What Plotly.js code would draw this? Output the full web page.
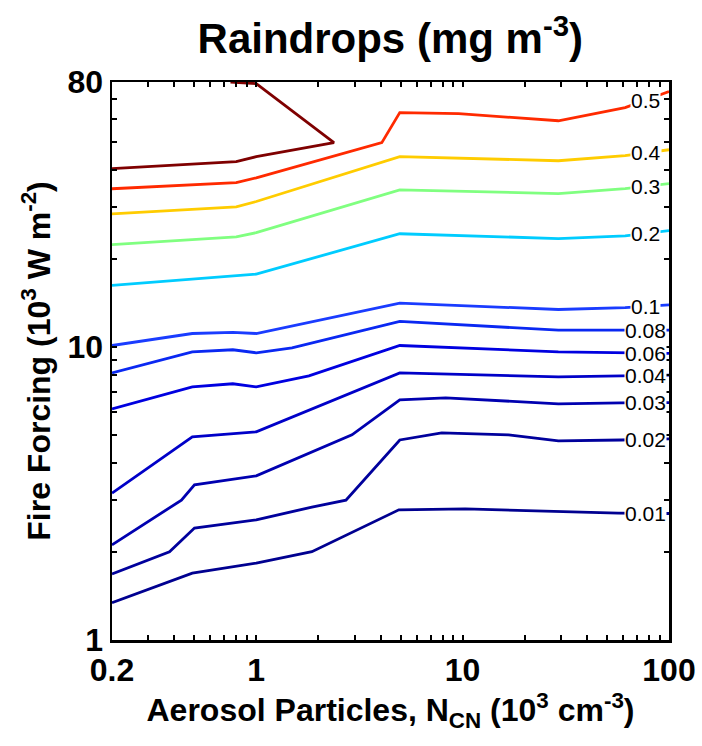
<!DOCTYPE html>
<html>
<head>
<meta charset="utf-8">
<script src="https://cdn.plot.ly/plotly-3.0.1.min.js"></script>
<style>
  html, body { margin: 0; padding: 0; background: #fff; }
  #chart { width: 702px; height: 746px; }
</style>
</head>
<body>
<div id="chart"></div>
<script>
// Contour levels of raindrop mass (mg m^-3) over aerosol number vs. fire forcing
const levels = ['0.6', '0.5', '0.4', '0.3', '0.2', '0.1', '0.08', '0.06', '0.04', '0.03', '0.02', '0.01'];
const levelColors = ['#7f0000', '#ff2a00', '#ffcc00', '#80ff80', '#00ccff', '#1a3cff',
                     '#0a28f2', '#0000e0', '#0000c8', '#0000b0', '#00009c', '#000090'];

// Aerosol particles N_CN (10^3 cm^-3) along each contour
const x060 = [0.2, 0.8, 1.0, 2.38, 1.0, 0.75];
const x050 = [0.2, 0.8, 1.0, 4.06, 4.96, 9.57, 29.1, 61.3, 100];
const x040 = [0.2, 0.8, 1.0, 4.96, 29.1, 61.3, 100];
const x030 = [0.2, 0.8, 1.0, 4.96, 29.1, 61.3, 100];
const x020 = [0.2, 0.8, 1.0, 4.96, 29.1, 61.3, 100];
const x010 = [0.2, 0.49, 0.77, 1.0, 4.96, 29.1, 61.3, 100];
const x008 = [0.2, 0.49, 0.77, 1.0, 1.49, 4.96, 29.1, 58.6, 100];
const x006 = [0.2, 0.49, 0.77, 1.0, 1.80, 4.96, 29.1, 58.6, 100];
const x004 = [0.2, 0.49, 1.0, 2.91, 4.96, 29.1, 58.6, 100];
const x003 = [0.2, 0.434, 0.502, 0.80, 1.0, 2.91, 4.96, 8.28, 29.1, 58.6, 100];
const x002 = [0.2, 0.38, 0.502, 1.0, 1.86, 2.72, 4.96, 7.92, 16.7, 29.1, 58.6, 100];
const x001 = [0.2, 0.49, 1.0, 1.86, 4.91, 10.3, 56.7, 100];

// Fire forcing (10^3 W m^-2) along each contour
const y060 = [40.5, 42.8, 44.5, 49.7, 79.0, 80];
const y050 = [34.6, 36.3, 37.7, 49.7, 62.9, 62.4, 59.0, 65.4, 74.2];
const y040 = [28.4, 30.0, 31.3, 44.5, 43.1, 44.9, 47.0];
const y030 = [22.3, 23.7, 24.5, 34.3, 33.3, 34.6, 36.0];
const y020 = [16.2, 17.5, 17.7, 24.3, 23.4, 23.9, 24.9];
const y010 = [10.1, 11.1, 11.2, 11.1, 14.1, 13.4, 13.6, 13.9];
const y008 = [8.15, 9.61, 9.77, 9.54, 9.92, 12.2, 11.4, 11.4, 11.4];
const y006 = [6.14, 7.30, 7.48, 7.30, 7.96, 10.1, 9.61, 9.54, 9.5];
const y004 = [3.17, 4.93, 5.13, 6.97, 8.15, 7.90, 7.96, 8.0];
const y003 = [2.11, 3.00, 3.38, 3.54, 3.63, 5.01, 6.59, 6.70, 6.39, 6.44, 6.45];
const y002 = [1.68, 2.00, 2.41, 2.57, 2.84, 3.00, 4.81, 5.09, 5.01, 4.78, 4.81, 4.85];
const y001 = [1.34, 1.69, 1.83, 2.00, 2.78, 2.80, 2.71, 2.70];

const xs = [x060, x050, x040, x030, x020, x010, x008, x006, x004, x003, x002, x001];
const ys = [y060, y050, y040, y030, y020, y010, y008, y006, y004, y003, y002, y001];

// Which levels carry an inline label, and where along x it sits
const labelled = [false, true, true, true, true, true, true, true, true, true, true, true];
const labelAtX = 77;

// Axis ticks
const xTickVals = [0.2, 0.3, 0.4, 0.5, 0.6, 0.7, 0.8, 0.9, 1, 2, 3, 4, 5, 6, 7, 8, 9, 10,
                   20, 30, 40, 50, 60, 70, 80, 90, 100];
const xTickText = ['0.2', '', '', '', '', '', '', '', '1', '', '', '', '', '', '', '', '', '10',
                   '', '', '', '', '', '', '', '', '100'];
const yTickVals = [1, 2, 3, 4, 5, 6, 7, 8, 9, 10, 20, 30, 40, 50, 60, 70, 80];
const yTickText = ['1', '', '', '', '', '', '', '', '', '10', '', '', '', '', '', '', '80'];

// Log-log interpolation of a contour at a given x
function yAt(xArr, yArr, xq) {
  for (let i = 0; i < xArr.length - 1; i++) {
    const a = xArr[i], b = xArr[i + 1];
    if ((xq >= a && xq <= b) || (xq <= a && xq >= b)) {
      const t = (Math.log10(xq) - Math.log10(a)) / (Math.log10(b) - Math.log10(a));
      return Math.pow(10, Math.log10(yArr[i]) + t * (Math.log10(yArr[i + 1]) - Math.log10(yArr[i])));
    }
  }
  return yArr[yArr.length - 1];
}

const traces = levels.map((lv, i) => ({
  type: 'scatter',
  mode: 'lines',
  x: xs[i],
  y: ys[i],
  name: lv,
  line: { color: levelColors[i], width: 2.8 },
  hoverinfo: 'skip',
  cliponaxis: true
}));

const sans = 'Liberation Sans, Arial, sans-serif';

const annotations = [];
levels.forEach((lv, i) => {
  if (!labelled[i]) return;
  annotations.push({
    x: Math.log10(labelAtX),
    y: Math.log10(yAt(xs[i], ys[i], labelAtX)),
    xref: 'x', yref: 'y',
    text: lv,
    showarrow: false,
    xanchor: 'center', yanchor: 'middle',
    bgcolor: '#ffffff',
    borderpad: 0,
    font: { family: sans, size: 21, color: '#000' }
  });
});

const tickFont = { family: sans, size: 32, color: '#000', weight: 'bold' };
const axisTitleFont = { family: sans, size: 32, color: '#000', weight: 'bold' };

const layout = {
  width: 702,
  height: 746,
  margin: { l: 112, r: 33, t: 82, b: 106 },
  paper_bgcolor: '#fff',
  plot_bgcolor: '#fff',
  showlegend: false,
  title: {
    text: 'Raindrops (mg m<sup>-3</sup>)',
    font: { family: sans, size: 42, color: '#000', weight: 'bold' },
    x: 0.556, xanchor: 'center',
    y: 0.948, yanchor: 'middle',
    xref: 'container', yref: 'container'
  },
  xaxis: {
    type: 'log',
    range: [Math.log10(0.2), 2],
    tickmode: 'array',
    tickvals: xTickVals,
    ticktext: xTickText,
    ticks: 'inside',
    ticklen: 5,
    tickwidth: 2,
    tickcolor: '#000',
    showline: true,
    linecolor: '#000',
    linewidth: 2.5,
    mirror: 'allticks',
    showgrid: false,
    zeroline: false,
    tickfont: tickFont,
    title: {
      text: 'Aerosol Particles, N<sub>CN</sub> (10<sup>3</sup> cm<sup>-3</sup>)',
      font: axisTitleFont,
      standoff: 8
    }
  },
  yaxis: {
    type: 'log',
    range: [0, Math.log10(80)],
    tickmode: 'array',
    tickvals: yTickVals,
    ticktext: yTickText,
    ticks: 'inside',
    ticklen: 5,
    tickwidth: 2,
    tickcolor: '#000',
    showline: true,
    linecolor: '#000',
    linewidth: 2.5,
    mirror: 'allticks',
    showgrid: false,
    zeroline: false,
    tickfont: tickFont,
    title: {
      text: 'Fire Forcing (10<sup>3</sup> W m<sup>-2</sup>)',
      font: axisTitleFont,
      standoff: 8
    }
  },
  annotations: annotations
};

Plotly.newPlot('chart', traces, layout, { displayModeBar: false, staticPlot: true });
</script>
</body>
</html>
